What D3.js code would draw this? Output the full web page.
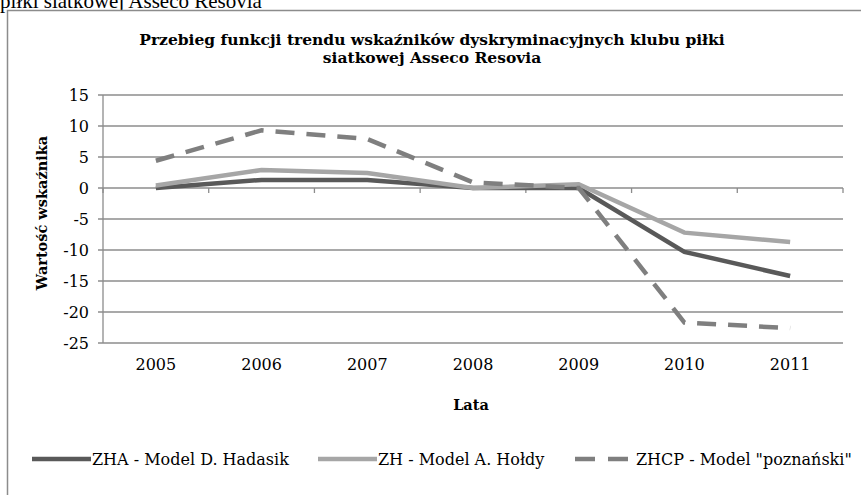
<!DOCTYPE html>
<html>
<head>
<meta charset="utf-8">
<script src="https://cdnjs.cloudflare.com/ajax/libs/d3/7.8.5/d3.min.js"></script>
<style>
  body { margin: 0; background: #fff; }
  svg { display: block; }
  text { font-family: "DejaVu Serif", serif; fill: #000; }
</style>
</head>
<body>
<div id="chart-area"></div>
<script>
// data
var years = ["2005", "2006", "2007", "2008", "2009", "2010", "2011"];
var zha  = [0, 1.3, 1.3, 0, 0, -10.3, -14.2];
var zh   = [0.4, 2.9, 2.4, 0, 0.6, -7.2, -8.7];
var zhcp = [4.4, 9.3, 7.9, 0.9, 0, -21.7, -22.6];
var yTicks = [15, 10, 5, 0, -5, -10, -15, -20, -25];
var seriesNames = ["ZHA - Model D. Hadasik", "ZH - Model A. Hołdy", "ZHCP - Model \"poznański\""];

var W = 861, H = 495;
var plot = { left: 103, right: 843, top: 95, bottom: 343 };

var svg = d3.select("#chart-area")
    .append("svg")
        .attr("width", W)
        .attr("height", H);

// cropped caption from the page above the chart
svg.append("text")
    .attr("x", 0)
    .attr("y", 8)
    .style("font-family", "'Liberation Serif', serif")
    .attr("font-size", "21px")
    .text("piłki siatkowej Asseco Resovia");

// chart frame
svg.append("rect")
    .attr("x", 7.5)
    .attr("y", 10.5)
    .attr("width", W + 20)
    .attr("height", H + 20)
    .attr("fill", "#fff")
    .attr("stroke", "#8c8c8c")
    .attr("stroke-width", 1.5);

// Scales
var x = d3.scaleBand()
    .domain(years)
    .range([plot.left, plot.right]);
var y = d3.scaleLinear()
    .domain([-25, 15])
    .range([plot.bottom, plot.top]);

// Grid lines + y ticks
svg.append("g")
    .selectAll("line")
    .data(yTicks)
    .enter()
    .append("line")
        .attr("x1", plot.left - 5)
        .attr("x2", plot.right)
        .attr("y1", function(d){ return y(d); })
        .attr("y2", function(d){ return y(d); })
        .attr("stroke", "#8c8c8c")
        .attr("stroke-width", 1.3);

// Y axis line
svg.append("line")
    .attr("x1", plot.left).attr("x2", plot.left)
    .attr("y1", plot.top).attr("y2", plot.bottom)
    .attr("stroke", "#8c8c8c")
    .attr("stroke-width", 1.3);

// Y tick labels
svg.append("g")
    .selectAll("text")
    .data(yTicks)
    .enter()
    .append("text")
        .attr("x", plot.left - 14)
        .attr("y", function(d){ return y(d); })
        .attr("dy", "0.35em")
        .attr("text-anchor", "end")
        .attr("font-size", "16px")
        .text(function(d){ return d; });

// category axis crosses at 0, ticks at band boundaries
var bounds = years.map(function(d){ return x(d); }).concat([plot.right]);
svg.append("g")
    .selectAll("line")
    .data(bounds)
    .enter()
    .append("line")
        .attr("x1", function(d){ return d; })
        .attr("x2", function(d){ return d; })
        .attr("y1", y(0))
        .attr("y2", y(0) + 5)
        .attr("stroke", "#8c8c8c")
        .attr("stroke-width", 1.3);

// category labels (low position)
svg.append("g")
    .selectAll("text")
    .data(years)
    .enter()
    .append("text")
        .attr("x", function(d){ return x(d) + x.bandwidth() / 2; })
        .attr("y", 370)
        .attr("text-anchor", "middle")
        .attr("font-size", "16px")
        .text(function(d){ return d; });

// Lines
var line = d3.line()
    .x(function(d, i){ return x(years[i]) + x.bandwidth() / 2; })
    .y(function(d){ return y(d); });

var styles = [
    { data: zha,  color: "#595959", dash: null },
    { data: zh,   color: "#a6a6a6", dash: null },
    { data: zhcp, color: "#7f7f7f", dash: "19,12" }
];

styles.forEach(function(s){
    svg.append("path")
        .datum(s.data)
        .attr("d", line)
        .attr("fill", "none")
        .attr("stroke", s.color)
        .attr("stroke-width", 4.5)
        .attr("stroke-dasharray", s.dash);
});

// Title
svg.append("text")
    .attr("x", 432)
    .attr("y", 45)
    .attr("text-anchor", "middle")
    .attr("font-size", "15.5px")
    .attr("font-weight", "bold")
    .text("Przebieg funkcji trendu wskaźników dyskryminacyjnych klubu piłki");
svg.append("text")
    .attr("x", 432)
    .attr("y", 63)
    .attr("text-anchor", "middle")
    .attr("font-size", "15.5px")
    .attr("font-weight", "bold")
    .text("siatkowej Asseco Resovia");

// Axis labels
svg.append("text")
    .attr("transform", "translate(47," + 213 + ") rotate(-90)")
    .attr("text-anchor", "middle")
    .attr("font-size", "14.5px")
    .attr("font-weight", "bold")
    .text("Wartość wskaźnika");
svg.append("text")
    .attr("x", 471)
    .attr("y", 410)
    .attr("text-anchor", "middle")
    .attr("font-size", "14.5px")
    .attr("font-weight", "bold")
    .text("Lata");

// Legend
var legendX = [32, 318, 575];
var legend = svg.append("g");
styles.forEach(function(s, i){
    legend.append("line")
        .attr("x1", legendX[i]).attr("x2", legendX[i] + (s.dash ? 53 : 59))
        .attr("y1", 459).attr("y2", 459)
        .attr("stroke", s.color)
        .attr("stroke-width", 4.5)
        .attr("stroke-dasharray", s.dash ? "20,13" : null);
    legend.append("text")
        .attr("x", legendX[i] + (s.dash ? 61 : 60))
        .attr("y", 459)
        .attr("dy", "0.35em")
        .attr("font-size", "16px")
        .text(seriesNames[i]);
});
</script>
</body>
</html>
